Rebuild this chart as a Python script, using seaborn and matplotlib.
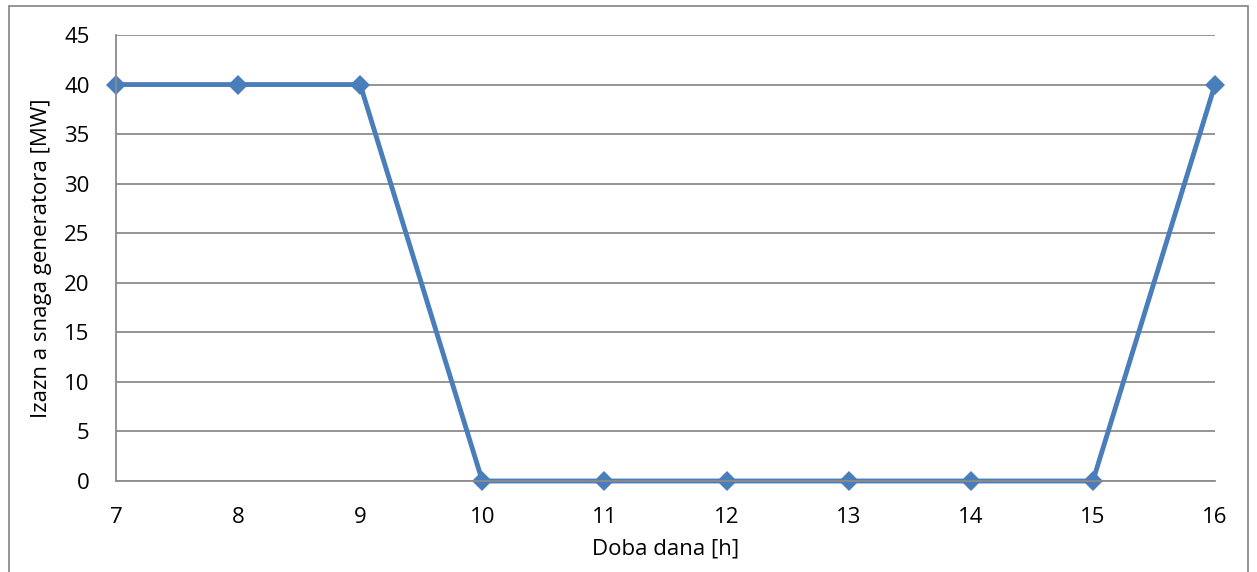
import matplotlib
matplotlib.use("Agg")
import matplotlib.pyplot as plt
import matplotlib.patches as mpatches
import seaborn as sns
import pandas as pd

hours = [7, 8, 9, 10, 11, 12, 13, 14, 15, 16]
power = [40, 40, 40, 0, 0, 0, 0, 0, 0, 40]
yticks = [0, 5, 10, 15, 20, 25, 30, 35, 40, 45]

sns.set_theme(style="white")
plt.rcParams['font.family'] = ['Open Sans', 'DejaVu Sans']

df = pd.DataFrame({"h": hours, "p": power})

W, H = 1257, 572
fig = plt.figure(figsize=(W / 100, H / 100), dpi=100)
ax = fig.add_axes([116 / W, (H - 481) / H, (1215 - 116) / W, (481 - 35) / H])

sns.lineplot(data=df, x="h", y="p", ax=ax, color="#4A7EBB", linewidth=3.5,
             marker="D", markersize=10, markeredgewidth=0, clip_on=False)

ax.set_xlim(7, 16)
ax.set_ylim(0, 45)
ax.set_xticks(hours)
ax.set_yticks(yticks)
ax.yaxis.grid(True, color="#8C8C8C", linewidth=1.3)
ax.xaxis.grid(False)
ax.set_axisbelow(True)
for s in ["top", "right"]:
    ax.spines[s].set_visible(False)
for s in ["left", "bottom"]:
    ax.spines[s].set_color("#8C8C8C")
    ax.spines[s].set_linewidth(1.3)
ax.tick_params(axis="both", length=0, labelsize=16, colors="black")
ax.tick_params(axis="x", pad=19)
ax.tick_params(axis="y", pad=19)
ax.set_xlabel("Doba dana [h]", fontsize=16, labelpad=7, color="black")
ax.set_ylabel("Izazn a snaga generatora [MW]", fontsize=16, labelpad=9, color="black")

fig.patches.append(mpatches.Rectangle((9 / W, -0.05), (1248 - 9) / W, 1.05 - 6 / H,
                                      transform=fig.transFigure, fill=False,
                                      edgecolor="#8C8C8C", linewidth=1.3))

fig.savefig("out.png", dpi=100)
